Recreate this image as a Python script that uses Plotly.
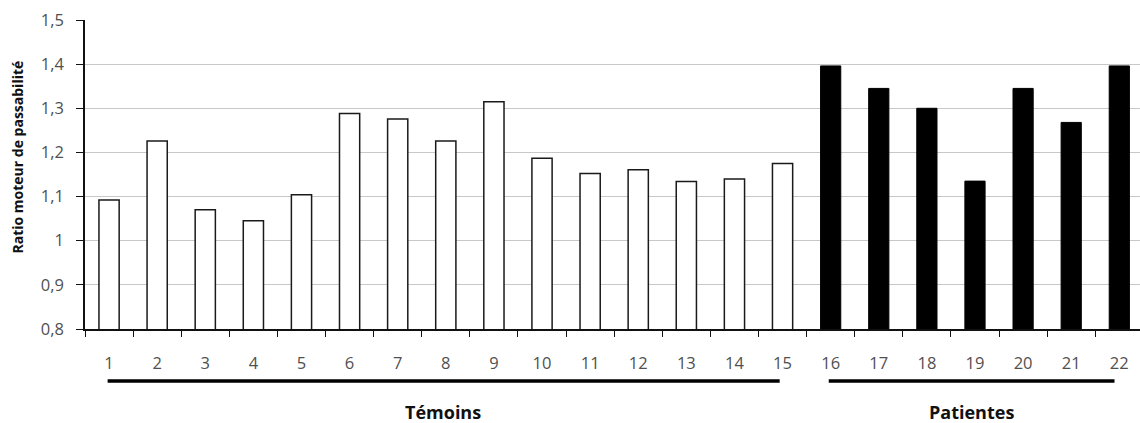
import plotly.graph_objects as go

# Motor passability ratio per subject
temoins_ids = [str(i) for i in range(1, 16)]
temoins_vals = [1.092, 1.226, 1.070, 1.045, 1.104, 1.288, 1.276, 1.226,
                1.315, 1.187, 1.152, 1.161, 1.134, 1.140, 1.175]
patientes_ids = [str(i) for i in range(16, 23)]
patientes_vals = [1.396, 1.345, 1.300, 1.135, 1.345, 1.268, 1.396]

y_ticks = [0.8, 0.9, 1.0, 1.1, 1.2, 1.3, 1.4, 1.5]
y_tick_text = ["0,8", "0,9", "1", "1,1", "1,2", "1,3", "1,4", "1,5"]

all_ids = temoins_ids + patientes_ids

fig = go.Figure()
fig.add_trace(go.Bar(
    x=temoins_ids, y=temoins_vals,
    marker=dict(color="white", line=dict(color="#1a1a1a", width=1.5)),
    width=0.42, showlegend=False,
))
fig.add_trace(go.Bar(
    x=patientes_ids, y=patientes_vals,
    marker=dict(color="black", line=dict(color="black", width=1)),
    width=0.42, showlegend=False,
))

# group underlines and labels below the category axis
groups = [
    ("Témoins", -0.03, 13.94, 6.95),
    ("Patientes", 14.96, 20.9, 17.93),
]
for label, x0, x1, xc in groups:
    fig.add_shape(type="line", xref="x", yref="paper",
                  x0=x0, x1=x1, y0=-0.168, y1=-0.168,
                  line=dict(color="black", width=3.5))
    fig.add_annotation(text=f"<b>{label}</b>", xref="x", yref="paper",
                       x=xc, y=-0.269, xanchor="center", yanchor="middle",
                       showarrow=False,
                       font=dict(family="Open Sans", size=18, color="#111"))

fig.add_annotation(text="<b>Ratio moteur de passabilité</b>", xref="paper", yref="paper",
                   x=0, xshift=-67, y=0.555, xanchor="center", yanchor="middle",
                   textangle=-90, showarrow=False,
                   font=dict(family="Open Sans", size=14, color="#111"))

fig.update_layout(
    width=1140, height=423,
    margin=dict(l=85, r=0, t=20, b=94),
    plot_bgcolor="white", paper_bgcolor="white",
    font=dict(family="Open Sans", size=15, color="#444"),
    xaxis=dict(
        type="category", categoryorder="array", categoryarray=all_ids,
        range=[-0.5, 21.43],
        showline=True, linecolor="#111", linewidth=1.5,
        ticks="outside", tickson="boundaries", ticklen=6, tickcolor="#111",
        tickfont=dict(family="Open Sans", size=16.5, color="#505050"),
        ticklabelstandoff=18,
        showgrid=False,
    ),
    yaxis=dict(
        range=[0.8, 1.5], tickvals=y_ticks, ticktext=y_tick_text,
        showline=True, linecolor="#111", linewidth=1.5,
        ticks="outside", ticklen=7, tickcolor="#111",
        tickfont=dict(family="Open Sans", size=16.5, color="#505050"),
        ticklabelstandoff=9,
        showgrid=True, gridcolor="#c8c8c8", gridwidth=1,
        zeroline=False,
    ),
)

fig.write_html("out.html")
